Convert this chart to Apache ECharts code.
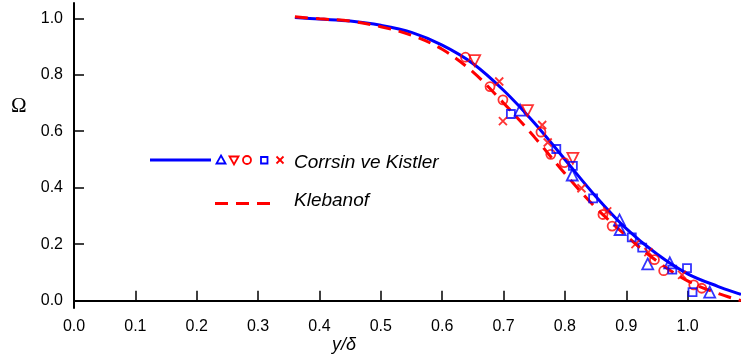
<!DOCTYPE html>
<html>
<head>
<meta charset="utf-8">
<script src="https://cdn.jsdelivr.net/npm/echarts@6/dist/echarts.min.js"></script>
<style>html,body{margin:0;padding:0;background:#fff}#c{width:741px;height:358px}</style>
</head>
<body>
<div id="c"></div>
<script>
// Curves
const curveX   = [0.36, 0.40, 0.45, 0.50, 0.55, 0.60, 0.65, 0.70, 0.75, 0.80, 0.85, 0.90, 0.95, 1.00, 1.05, 1.087];
const corrsinCurve  = [1.003, 0.997, 0.99, 0.975, 0.95, 0.905, 0.84, 0.745, 0.63, 0.50, 0.37, 0.255, 0.165, 0.095, 0.05, 0.022];
const klebanofCurve = [1.005, 0.998, 0.99, 0.97, 0.94, 0.89, 0.81, 0.70, 0.58, 0.45, 0.33, 0.23, 0.14, 0.07, 0.025, 0.0];

// Experimental points
const triUpX = [0.727, 0.812, 0.889, 0.890, 0.935, 0.971, 1.036];
const triUpY = [0.675, 0.445, 0.286, 0.252, 0.130, 0.134, 0.030];
const triDownX = [0.653, 0.739, 0.813];
const triDownY = [0.850, 0.673, 0.504];
const circleX = [0.638, 0.678, 0.699, 0.761, 0.777, 0.799, 0.862, 0.877, 0.946, 0.961, 1.010, 1.023];
const circleY = [0.862, 0.758, 0.711, 0.597, 0.518, 0.489, 0.305, 0.264, 0.145, 0.106, 0.056, 0.044];
const squareX = [0.712, 0.786, 0.813, 0.846, 0.909, 0.926, 0.975, 0.999, 1.008];
const squareY = [0.661, 0.537, 0.477, 0.362, 0.224, 0.188, 0.110, 0.115, 0.030];
const crossX = [0.693, 0.699, 0.763, 0.772, 0.827, 0.869, 0.915, 0.936, 0.991];
const crossY = [0.776, 0.636, 0.622, 0.560, 0.398, 0.316, 0.200, 0.172, 0.091];

const xTicks = [0, 0.1, 0.2, 0.3, 0.4, 0.5, 0.6, 0.7, 0.8, 0.9, 1.0];
const yTicks = [0, 0.2, 0.4, 0.6, 0.8, 1.0];

const pairs = (xs, ys) => xs.map((x, i) => [x, ys[i]]);
const BLUE = '#0000ff', RED = '#ff0000';
const CROSS = 'path://M0,0L10,10M10,0L0,10';

function pts(name, xs, ys, symbol, color, size, rot) {
  return {
    type: 'scatter', name, data: pairs(xs, ys), symbol, symbolSize: size,
    symbolRotate: rot || 0,
    itemStyle: { color: 'transparent', borderColor: color, borderWidth: 1.8 },
    z: 5, silent: true
  };
}

const chart = echarts.init(document.getElementById('c'), null, { renderer: 'canvas' });
const axisFont = { fontFamily: 'Liberation Sans, Arial, sans-serif', fontSize: 16, color: '#000' };
const legendFont = 'italic 19px "Liberation Sans", Arial, sans-serif';
chart.setOption({
  animation: false,
  backgroundColor: '#fff',
  grid: { left: 74, right: 0, top: 3, bottom: 50, containLabel: false },
  xAxis: {
    type: 'value', min: 0, max: 1.087,
    axisLine: { show: true, lineStyle: { color: '#000', width: 2 } },
    axisTick: { show: true, inside: true, length: 10, customValues: xTicks, lineStyle: { color: '#000', width: 1.5 } },
    axisLabel: { customValues: xTicks, margin: 11, formatter: v => v.toFixed(1), ...axisFont },
    splitLine: { show: false }
  },
  yAxis: {
    type: 'value', min: -0.026, max: 1.054,
    axisLine: { show: true, lineStyle: { color: '#000', width: 2 } },
    axisTick: { show: true, inside: true, length: 10, customValues: yTicks, lineStyle: { color: '#000', width: 1.5 } },
    axisLabel: { customValues: yTicks, margin: 11, formatter: v => v.toFixed(1), ...axisFont },
    splitLine: { show: false }
  },
  series: [
    { type: 'line', name: 'Corrsin ve Kistler', data: pairs(curveX, corrsinCurve), smooth: 0.35, showSymbol: false,
      lineStyle: { color: BLUE, width: 3 }, z: 3, silent: true },
    { type: 'line', name: 'Klebanof', data: pairs(curveX, klebanofCurve), smooth: 0.35, showSymbol: false,
      lineStyle: { color: RED, width: 3, type: [13, 8] }, z: 4, silent: true },
    pts('tri-up', triUpX, triUpY, 'triangle', BLUE, 11),
    pts('tri-down', triDownX, triDownY, 'triangle', RED, 11, 180),
    pts('circle', circleX, circleY, 'circle', RED, 9),
    pts('square', squareX, squareY, 'rect', BLUE, 8),
    pts('cross', crossX, crossY, CROSS, RED, 8)
  ],
  graphic: [
    { type: 'text', left: 11, top: 96, style: { text: 'Ω', font: '21px "Liberation Serif", "Times New Roman", serif', fill: '#000' } },
    { type: 'text', left: 332, top: 336, style: { text: 'y/δ', font: 'italic 18px "Liberation Sans", Arial, sans-serif', fill: '#000' } },
    // legend
    { type: 'line', shape: { x1: 150, y1: 160, x2: 211, y2: 160 }, style: { stroke: BLUE, lineWidth: 3 } },
    { type: 'polygon', shape: { points: [[221, 155.5], [225.5, 163.5], [216.5, 163.5]] }, style: { fill: 'none', stroke: BLUE, lineWidth: 1.8 } },
    { type: 'polygon', shape: { points: [[229.5, 156.5], [238.5, 156.5], [234, 164.5]] }, style: { fill: 'none', stroke: RED, lineWidth: 1.8 } },
    { type: 'circle', shape: { cx: 247, cy: 160, r: 4 }, style: { fill: 'none', stroke: RED, lineWidth: 1.8 } },
    { type: 'rect', shape: { x: 261, y: 157, width: 6.5, height: 6.5 }, style: { fill: 'none', stroke: BLUE, lineWidth: 1.8 } },
    { type: 'polyline', shape: { points: [[276.5, 156.5], [283.5, 163.5]] }, style: { stroke: RED, lineWidth: 1.8 } },
    { type: 'polyline', shape: { points: [[283.5, 156.5], [276.5, 163.5]] }, style: { stroke: RED, lineWidth: 1.8 } },
    { type: 'text', left: 294, top: 153, style: { text: 'Corrsin ve Kistler', font: legendFont, fill: '#000' } },
    { type: 'line', shape: { x1: 215, y1: 203.5, x2: 270, y2: 203.5 }, style: { stroke: RED, lineWidth: 3, lineDash: [13, 8] } },
    { type: 'text', left: 294, top: 191, style: { text: 'Klebanof', font: legendFont, fill: '#000' } }
  ]
});
</script>
</body>
</html>
